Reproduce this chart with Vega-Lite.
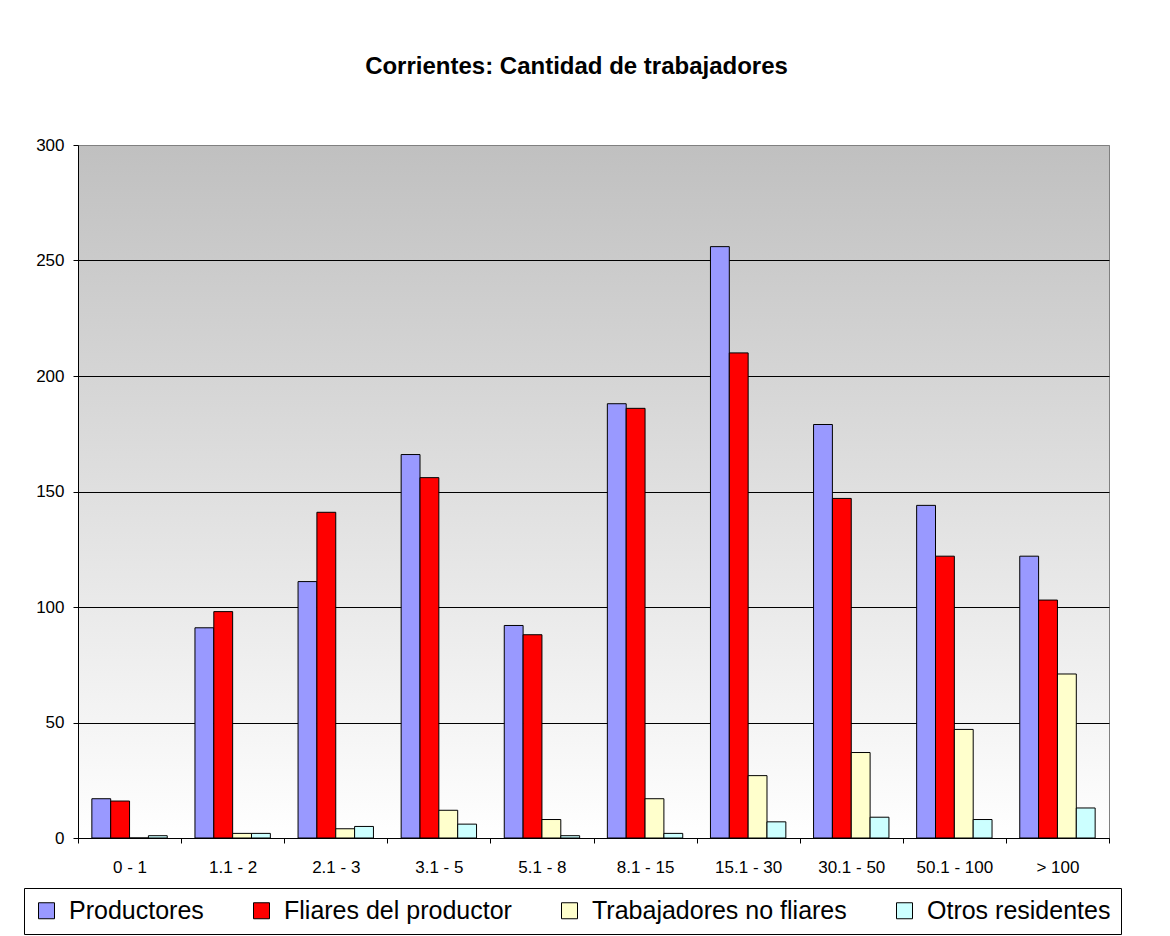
{
  "$schema": "https://vega.github.io/schema/vega-lite/v6.json",
  "autosize": "none",
  "width": 1031,
  "height": 693,
  "padding": {"left": 78, "top": 145, "right": 61, "bottom": 98},
  "background": "white",
  "title": {
    "text": "Corrientes: Cantidad de trabajadores",
    "font": "Liberation Sans",
    "fontSize": 24,
    "fontWeight": "bold",
    "color": "black",
    "anchor": "middle",
    "dx": -17,
    "offset": 57
  },
  "data": {
    "values": [
      {"rango": "0 - 1", "serie": "Productores", "valor": 17},
      {"rango": "0 - 1", "serie": "Fliares del productor", "valor": 16},
      {"rango": "0 - 1", "serie": "Trabajadores no fliares", "valor": 0},
      {"rango": "0 - 1", "serie": "Otros residentes", "valor": 1},
      {"rango": "1.1 - 2", "serie": "Productores", "valor": 91},
      {"rango": "1.1 - 2", "serie": "Fliares del productor", "valor": 98},
      {"rango": "1.1 - 2", "serie": "Trabajadores no fliares", "valor": 2},
      {"rango": "1.1 - 2", "serie": "Otros residentes", "valor": 2},
      {"rango": "2.1 - 3", "serie": "Productores", "valor": 111},
      {"rango": "2.1 - 3", "serie": "Fliares del productor", "valor": 141},
      {"rango": "2.1 - 3", "serie": "Trabajadores no fliares", "valor": 4},
      {"rango": "2.1 - 3", "serie": "Otros residentes", "valor": 5},
      {"rango": "3.1 - 5", "serie": "Productores", "valor": 166},
      {"rango": "3.1 - 5", "serie": "Fliares del productor", "valor": 156},
      {"rango": "3.1 - 5", "serie": "Trabajadores no fliares", "valor": 12},
      {"rango": "3.1 - 5", "serie": "Otros residentes", "valor": 6},
      {"rango": "5.1 - 8", "serie": "Productores", "valor": 92},
      {"rango": "5.1 - 8", "serie": "Fliares del productor", "valor": 88},
      {"rango": "5.1 - 8", "serie": "Trabajadores no fliares", "valor": 8},
      {"rango": "5.1 - 8", "serie": "Otros residentes", "valor": 1},
      {"rango": "8.1 - 15", "serie": "Productores", "valor": 188},
      {"rango": "8.1 - 15", "serie": "Fliares del productor", "valor": 186},
      {"rango": "8.1 - 15", "serie": "Trabajadores no fliares", "valor": 17},
      {"rango": "8.1 - 15", "serie": "Otros residentes", "valor": 2},
      {"rango": "15.1 - 30", "serie": "Productores", "valor": 256},
      {"rango": "15.1 - 30", "serie": "Fliares del productor", "valor": 210},
      {"rango": "15.1 - 30", "serie": "Trabajadores no fliares", "valor": 27},
      {"rango": "15.1 - 30", "serie": "Otros residentes", "valor": 7},
      {"rango": "30.1 - 50", "serie": "Productores", "valor": 179},
      {"rango": "30.1 - 50", "serie": "Fliares del productor", "valor": 147},
      {"rango": "30.1 - 50", "serie": "Trabajadores no fliares", "valor": 37},
      {"rango": "30.1 - 50", "serie": "Otros residentes", "valor": 9},
      {"rango": "50.1 - 100", "serie": "Productores", "valor": 144},
      {"rango": "50.1 - 100", "serie": "Fliares del productor", "valor": 122},
      {"rango": "50.1 - 100", "serie": "Trabajadores no fliares", "valor": 47},
      {"rango": "50.1 - 100", "serie": "Otros residentes", "valor": 8},
      {"rango": "> 100", "serie": "Productores", "valor": 122},
      {"rango": "> 100", "serie": "Fliares del productor", "valor": 103},
      {"rango": "> 100", "serie": "Trabajadores no fliares", "valor": 71},
      {"rango": "> 100", "serie": "Otros residentes", "valor": 13}
    ]
  },
  "mark": {"type": "bar", "stroke": "black", "strokeWidth": 1},
  "encoding": {
    "x": {
      "field": "rango",
      "type": "nominal",
      "sort": null,
      "title": null,
      "scale": {"paddingInner": 0, "paddingOuter": 0},
      "axis": {
        "labelAngle": 0,
        "labelFont": "Liberation Sans",
        "labelFontSize": 17,
        "labelColor": "black",
        "labelPadding": 16,
        "tickBand": "extent",
        "tickSize": 5,
        "tickColor": "black",
        "domainColor": "black",
        "grid": false
      }
    },
    "xOffset": {
      "field": "serie",
      "type": "nominal",
      "sort": ["Productores", "Fliares del productor", "Trabajadores no fliares", "Otros residentes"],
      "scale": {"paddingInner": 0, "paddingOuter": 0.735}
    },
    "y": {
      "field": "valor",
      "type": "quantitative",
      "title": null,
      "scale": {"domain": [0, 300], "nice": false},
      "axis": {
        "values": [0, 50, 100, 150, 200, 250, 300],
        "labelFont": "Liberation Sans",
        "labelFontSize": 17,
        "labelColor": "black",
        "labelPadding": 9,
        "tickSize": 5,
        "tickColor": "black",
        "domainColor": "black",
        "gridColor": {"condition": {"test": "datum.value == 300", "value": "#808080"}, "value": "black"},
        "gridOpacity": 1
      }
    },
    "color": {
      "field": "serie",
      "type": "nominal",
      "scale": {
        "domain": ["Productores", "Fliares del productor", "Trabajadores no fliares", "Otros residentes"],
        "range": ["#9999FF", "#FF0000", "#FFFFCC", "#CCFFFF"]
      },
      "legend": {
        "title": null,
        "orient": "none",
        "direction": "horizontal",
        "legendX": -54,
        "legendY": 743,
        "padding": 10,
        "strokeColor": "black",
        "fillColor": "white",
        "symbolType": "square",
        "symbolSize": 256,
        "symbolStrokeColor": "black",
        "symbolStrokeWidth": 1,
        "symbolOpacity": 1,
        "labelFont": "Liberation Sans",
        "labelFontSize": 25,
        "labelColor": "black",
        "labelOffset": 10,
        "labelLimit": 400,
        "columnPadding": 45
      }
    }
  },
  "config": {
    "view": {
      "stroke": "#808080",
      "strokeWidth": 1,
      "fill": {
        "gradient": "linear",
        "x1": 0, "y1": 0, "x2": 0, "y2": 1,
        "stops": [
          {"offset": 0, "color": "#c0c0c0"},
          {"offset": 1, "color": "#ffffff"}
        ]
      }
    }
  }
}
